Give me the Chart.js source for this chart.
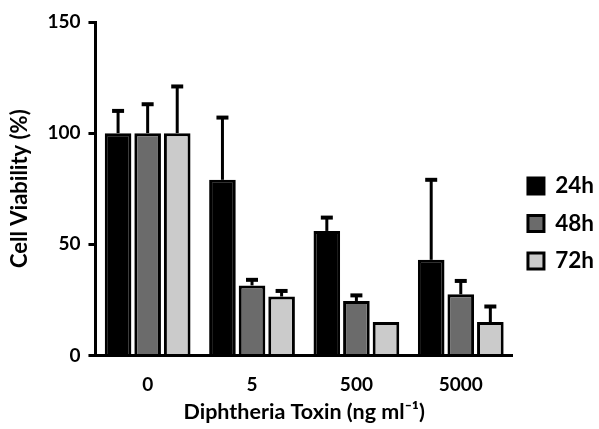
<!DOCTYPE html>
<html>
<head>
<meta charset="utf-8">
<script src="https://cdn.jsdelivr.net/npm/chart.js@4/dist/chart.umd.min.js"></script>
<style>
    body { margin: 0; background: #fff; }
    #wrap { width: 599px; height: 429px; }
</style>
</head>
<body>
<div id="wrap"><canvas id="cellChart"></canvas></div>
<script>
// Data
const doses = ['0', '5', '500', '5000'];
const seriesNames = ['24h', '48h', '72h'];
const viability24 = [100, 79, 56, 43];
const viability48 = [100, 31.5, 24.5, 27.5];
const viability72 = [100, 26.5, 15, 15];
const error24 = [10, 28, 6, 36];
const error48 = [13, 2.5, 2.5, 6];
const error72 = [21, 2.5, 0, 7];
const yTicks = [0, 50, 100, 150];

const fontFamily = 'Lato, "Open Sans", sans-serif';

// Upward-only error bars, drawn from the y scale
const errorBarPlugin = {
    id: 'errorBars',
    afterDatasetsDraw(chart) {
        const ctx = chart.ctx;
        const yScale = chart.scales.y;
        chart.data.datasets.forEach((ds, i) => {
            const meta = chart.getDatasetMeta(i);
            meta.data.forEach((bar, j) => {
                const err = ds.errors[j];
                if (!err) return;
                const yTop = yScale.getPixelForValue(ds.data[j] + err);
                ctx.save();
                ctx.strokeStyle = '#000';
                ctx.lineWidth = 3;
                ctx.beginPath();
                ctx.moveTo(bar.x, bar.y);
                ctx.lineTo(bar.x, yTop);
                ctx.stroke();
                ctx.lineWidth = 4;
                ctx.beginPath();
                ctx.moveTo(bar.x - 6, yTop);
                ctx.lineTo(bar.x + 6, yTop);
                ctx.stroke();
                ctx.restore();
            });
        });
    }
};

new Chart(document.getElementById('cellChart'), {
    type: 'bar',
    data: {
        labels: doses,
        datasets: [
            { label: seriesNames[0], data: viability24, errors: error24, backgroundColor: '#000000' },
            { label: seriesNames[1], data: viability48, errors: error48, backgroundColor: '#6b6b6b' },
            { label: seriesNames[2], data: viability72, errors: error72, backgroundColor: '#cbcbcb' }
        ].map(ds => Object.assign(ds, {
            borderColor: '#000',
            borderWidth: 3,
            categoryPercentage: 0.85,
            barPercentage: 0.9
        }))
    },
    options: {
        responsive: true,
        maintainAspectRatio: false,
        animation: false,
        layout: { padding: { top: 22, right: -5, left: 3, bottom: 4 } },
        plugins: {
            tooltip: { enabled: false },
            legend: {
                position: 'right',
                labels: {
                    color: '#000',
                    boxWidth: 16,
                    boxHeight: 16,
                    padding: 15,
                    font: { family: fontFamily, size: 22.5, weight: 'bold' }
                }
            }
        },
        scales: {
            x: {
                grid: { display: false, drawTicks: false },
                border: { color: '#000', width: 3 },
                ticks: {
                    color: '#000',
                    padding: 18,
                    font: { family: fontFamily, size: 19, weight: 'bold' }
                },
                title: {
                    display: true,
                    text: 'Diphtheria Toxin (ng ml\u207B\u00B9)',
                    color: '#000',
                    padding: { top: -15, bottom: 0 },
                    font: { family: fontFamily, size: 21.5, weight: 'bold' }
                }
            },
            y: {
                min: 0,
                max: 150,
                afterBuildTicks(scale) {
                    scale.ticks = yTicks.map(v => ({ value: v }));
                },
                grid: {
                    drawOnChartArea: false,
                    drawTicks: true,
                    tickLength: 7,
                    lineWidth: 3,
                    color: '#000'
                },
                border: { color: '#000', width: 3 },
                ticks: {
                    color: '#000',
                    padding: 8,
                    font: { family: fontFamily, size: 19, weight: 'bold' }
                },
                title: {
                    display: true,
                    text: 'Cell Viability (%)',
                    color: '#000',
                    padding: { bottom: 6 },
                    font: { family: fontFamily, size: 22, weight: 'bold' }
                }
            }
        }
    },
    plugins: [errorBarPlugin]
});
</script>
</body>
</html>
